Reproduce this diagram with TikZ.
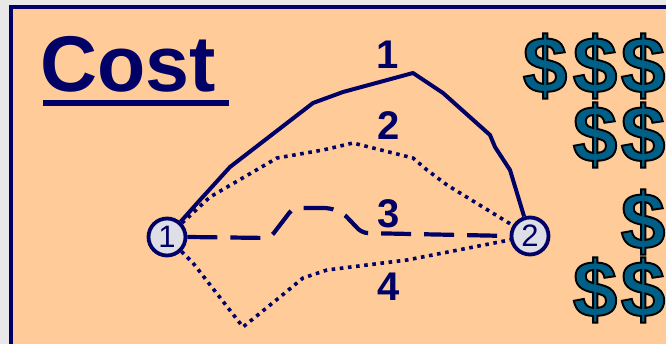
\documentclass[tikz,border=0pt]{standalone}
\usepackage{fontspec}
\setmainfont{Liberation Sans}
\newfontfamily\dollarfont[FakeBold=2.4]{Liberation Sans Bold}
\definecolor{navy}{RGB}{0,0,102}
\definecolor{peach}{RGB}{255,204,153}
\definecolor{bggray}{RGB}{232,232,232}
\definecolor{circfill}{RGB}{222,222,230}
\definecolor{dollarblue}{RGB}{0,95,135}
\newcommand{\outlineddollar}{{\color{dollarblue}\special{pdf:code 0 0 0 RG}\$}}
\begin{document}
\begin{tikzpicture}[x=1pt,y=-1pt,
  route/.style={draw=navy, line width=4pt, line join=round},
  dotroute/.style={route, line width=3.6pt, dash pattern=on 3.6pt off 4.6pt},
  dashroute/.style={route, line width=4.2pt, dash pattern=on 30pt off 13pt, rounded corners=6pt},
  endpoint/.style={circle, draw=navy, line width=3.8pt, fill=circfill, minimum size=37pt, inner sep=0pt, font=\fontsize{31}{31}\selectfont, text=navy},
  routelabel/.style={font=\fontsize{40}{40}\selectfont\bfseries, text=navy, inner sep=0pt},
  dollar/.style={font=\dollarfont\fontsize{80}{80}\selectfont, inner sep=0pt}
]
\useasboundingbox (0,0) rectangle (666,344);
\clip (0,0) rectangle (666,344);
\fill[bggray] (0,0) rectangle (666,344);
\draw[navy, line width=4pt, fill=peach] (11,7) rectangle (690,370);

% title
\node[anchor=base west, inner sep=0pt, font=\fontsize{79}{79}\selectfont\bfseries, text=navy] (cost) at (40,92) {Cost};
\draw[navy, line width=6pt] (43,103) -- (229,103);

% endpoints
\node[endpoint] (n1) at (167,237) {1};
\node[endpoint] (n2) at (530,236) {2};

% route 1 (solid)
\draw[route] (n1) -- (200,200) -- (230,167) -- (313,103) -- (343,92) -- (413,73) -- (443,93) -- (490,135) -- (495,147) -- (510,170) -- (n2);
% route 2 (dotted)
\draw[dotroute] (n1) -- (210,197) -- (277,158) -- (323,150) -- (353,143) -- (413,158) -- (427,170) -- (447,185) -- (n2);
% route 3 (dashed)
\draw[dashroute] (n1.east) -- (270,238) -- (293,208) -- (330,208) -- (343,213) -- (362,233) -- (n2.west);
% route 4 (dotted)
\draw[dotroute] (n1) -- (193,263) -- (243,327) -- (280,297) -- (303,278) -- (327,270) -- (407,260) -- (n2);

% labels
\node[routelabel] (l1) at (388,55) {1};
\node[routelabel] (l2) at (389,126) {2};
\node[routelabel] (l3) at (389,214) {3};
\node[routelabel] (l4) at (389,287) {4};

% dollar signs
\foreach \px/\py [count=\k] in {545/66, 595/66, 643/66, 595/135, 643/135, 643/222, 595/290, 643/290} {
  \node[dollar] (d\k) at (\px,\py) {\outlineddollar};
}
\end{tikzpicture}
\end{document}
